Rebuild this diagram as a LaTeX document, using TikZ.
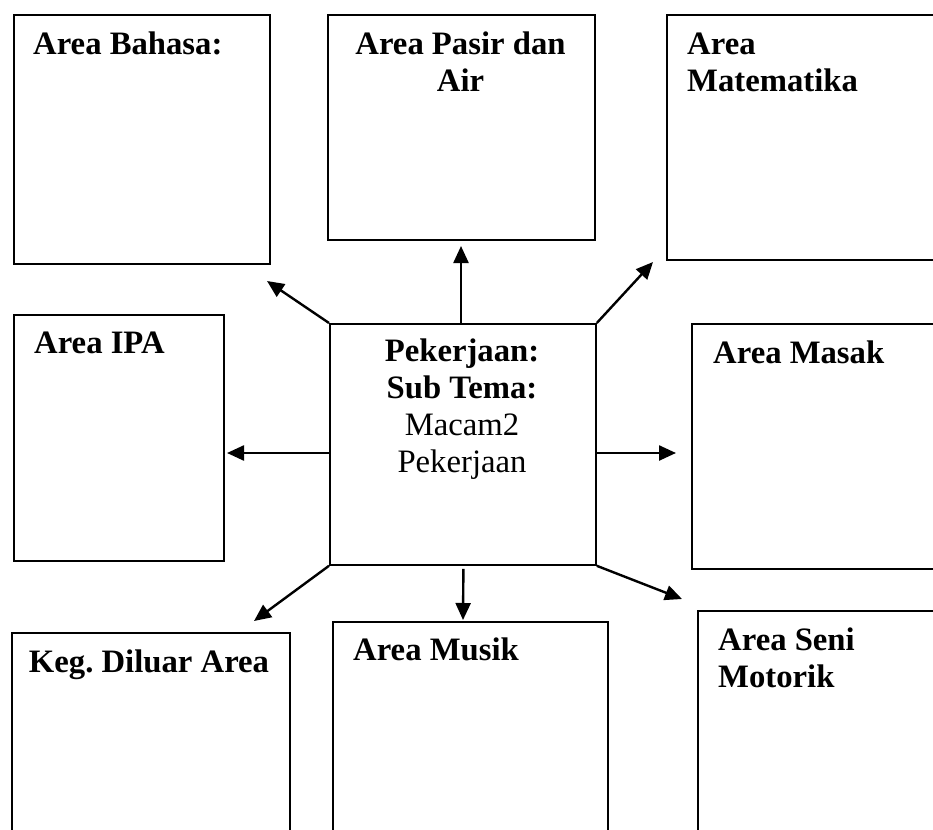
\documentclass[tikz,border=0pt]{standalone}
\usepackage{fontspec}
\setmainfont{Liberation Serif}
\usetikzlibrary{arrows.meta}
\frenchspacing
\tikzset{
  areabox/.style={draw, line width=1.8pt, anchor=north west, inner sep=0pt, minimum width=#1},
  lbl/.style={inner sep=0pt, font=\fontsize{32.7}{37}\selectfont\bfseries, anchor=base west, align=left},
  arr/.style={line width=2.4pt, -{Triangle[length=17pt,width=15pt]}}
}
\begin{document}
\begin{tikzpicture}[x=1pt,y=-1pt]
\useasboundingbox (0,0) rectangle (933,829);
\clip (0,0) rectangle (933,829);
% boxes
\node[areabox=256pt, minimum height=249pt] (bahasa) at (13,14) {};
\node[areabox=267pt, minimum height=225pt] (pasir) at (327,14) {};
\node[areabox=290pt, minimum height=245pt] (mat) at (666,14) {};
\node[areabox=210pt, minimum height=246pt] (ipa) at (13,314) {};
\node[areabox=266pt, minimum height=241pt] (c) at (329,323) {};
\node[areabox=270pt, minimum height=245pt] (masak) at (691,323) {};
\node[areabox=278pt, minimum height=260pt] (keg) at (11,632) {};
\node[areabox=275pt, minimum height=260pt] (musik) at (332,621) {};
\node[areabox=270pt, minimum height=260pt] (seni) at (697,610) {};
% labels (multi-line nodes: base = baseline of last line)
\node[lbl] (tbahasa) at (33,55) {Area Bahasa:};
\node[lbl, align=center, anchor=base] (tpasir) at (460.5,92) {Area Pasir dan\\Air};
\node[lbl] (tmat) at (687,92) {Area\\Matematika};
\node[lbl] (tipa) at (34,353) {Area IPA};
\node[lbl, align=center, anchor=base] (tc) at (462,472) {Pekerjaan:\\Sub Tema:\\\mdseries Macam2\\\mdseries Pekerjaan};
\node[lbl] (tmasak) at (713,363) {Area Masak};
\node[lbl, anchor=base] (tkeg) at (149,672) {Keg. Diluar Area};
\node[lbl] (tmusik) at (353,660) {Area Musik};
\node[lbl] (tseni) at (718,687) {Area Seni\\Motorik};
% arrow end points
\coordinate (eup) at (461,246);
\coordinate (etr) at (653,262);
\coordinate (etl) at (267,281);
\coordinate (eleft) at (227,453);
\coordinate (eright) at (676,453);
\coordinate (ebl) at (254,621);
\coordinate (ebot) at (463,620);
\coordinate (ebr) at (682,599);
% arrows
\draw[arr] (c.north -| eup) -- (eup);
\draw[arr] (c.north east) -- (etr);
\draw[arr] (c.north west) -- (etl);
\draw[arr] (c.west |- eleft) -- (eleft);
\draw[arr] (c.east |- eright) -- (eright);
\draw[arr] (c.south west) -- (ebl);
\draw[arr] ([xshift=0.5pt,yshift=-3pt]c.south) -- (ebot);
\draw[arr] (c.south east) -- (ebr);
\end{tikzpicture}
\end{document}
